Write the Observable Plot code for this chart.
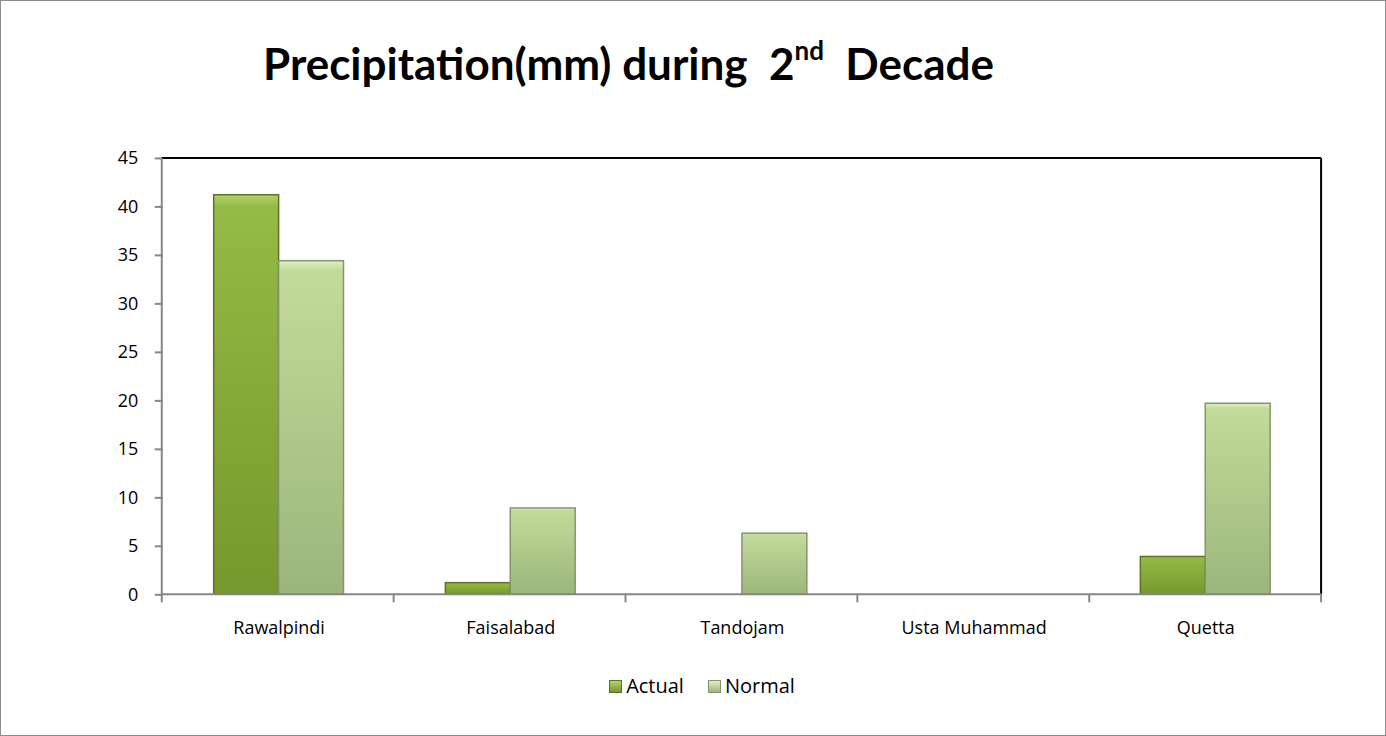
<!DOCTYPE html>
<html><head><meta charset="utf-8">
<script src="https://cdn.jsdelivr.net/npm/d3@7"></script>
<script src="https://cdn.jsdelivr.net/npm/@observablehq/plot@0.6"></script>
<style>
body{margin:0;background:#fff;}
#chart{position:relative;width:1384px;height:734px;border:1px solid #8c8c8c;background:#fff;font-family:"Open Sans",sans-serif;overflow:hidden;}
#title{position:absolute;left:262px;top:36px;font-family:Lato,"Open Sans",sans-serif;font-weight:bold;font-size:44px;line-height:52px;color:#000;white-space:pre;}
#title sup{font-size:26px;position:relative;top:-4px;line-height:0;}
#plot{position:absolute;left:0;top:100px;}
#legend{position:absolute;left:0;width:1386px;top:671px;text-align:center;font-size:20px;color:#000;padding-left:8px;}
#legend span.item{margin:0 12px;}
#legend i{display:inline-block;width:11px;height:11px;margin-right:4px;vertical-align:0px;}
</style></head>
<body>
<div id="chart">
<div id="title">Precipitation(mm) during  2<sup>nd</sup>  Decade</div>
<div id="plot"></div>
<div id="legend"></div>
</div>
<script>
const stations = ["Rawalpindi", "Faisalabad", "Tandojam", "Usta Muhammad", "Quetta"];
const series = ["Actual", "Normal"];
const actual = [41.2, 1.2, 0, 0, 3.9];
const normal = [34.4, 8.9, 6.3, 0, 19.7];
const yTicks = [0, 5, 10, 15, 20, 25, 30, 35, 40, 45];
const colors = {Actual: "url(#gActual)", Normal: "url(#gNormal)"};
const strokes = {Actual: "#5a7424", Normal: "#84956c"};

const data = [];
stations.forEach((s, i) => {
  data.push({station: s, series: "Actual", value: actual[i]});
  data.push({station: s, series: "Normal", value: normal[i]});
});

const W = 1386, H = 540;
const plot = Plot.plot({
  width: W, height: H,
  marginLeft: 161, marginRight: 64, marginTop: 57, marginBottom: 46,
  style: {fontFamily: "'Open Sans', sans-serif", fontSize: "18px", color: "#000", background: "transparent"},
  fx: {domain: stations, padding: 0, label: null},
  x: {domain: series, paddingInner: 0, paddingOuter: 0.7576, axis: null},
  y: {domain: [0, 45], label: null},
  marks: [
    Plot.barY(data, {
      fx: "station", x: "series", y: "value",
      filter: d => d.value > 0,
      fill: d => colors[d.series],
      stroke: d => strokes[d.series],
      strokeWidth: 1.5
    }),
    Plot.axisY({ticks: yTicks, tickSize: 8, tickPadding: 17, stroke: "#868686", strokeWidth: 2, fill: "#000", label: null, fontSize: 18}),
    Plot.axisFx({anchor: "bottom", tickSize: 0, tickPadding: 26, label: null, fill: "#000", fontSize: 18})
  ]
});
document.getElementById("plot").appendChild(plot);

// gradients & frame decoration drawn from the plot's own scales
const svg = d3.select(plot);
const defs = svg.insert("defs", ":first-child");
function grad(id, stops) {
  const g = defs.append("linearGradient").attr("id", id).attr("x1", 0).attr("y1", 0).attr("x2", 0).attr("y2", 1);
  stops.forEach(([o, c]) => g.append("stop").attr("offset", o).attr("stop-color", c));
}
grad("gActual", [[0, "#b2d26c"], [0.03, "#94bb45"], [0.5, "#86aa38"], [1, "#76982d"]]);
grad("gNormal", [[0, "#e0efc6"], [0.03, "#c2db9a"], [0.5, "#b0c98a"], [1, "#9bb57c"]]);

const fx = plot.scale("fx"), y = plot.scale("y");
const x0 = fx.range[0], x1 = fx.range[1];
const yTop = y.apply(45), yBot = y.apply(0);
const g = svg.append("g");
g.append("line").attr("x1", x0).attr("x2", x1).attr("y1", yTop).attr("y2", yTop).attr("stroke", "#000").attr("stroke-width", 2);
g.append("line").attr("x1", x1).attr("x2", x1).attr("y1", yTop).attr("y2", yBot).attr("stroke", "#000").attr("stroke-width", 2);
g.append("line").attr("x1", x0).attr("x2", x0).attr("y1", yTop).attr("y2", yBot).attr("stroke", "#868686").attr("stroke-width", 2);
g.append("line").attr("x1", x0).attr("x2", x1).attr("y1", yBot).attr("y2", yBot).attr("stroke", "#868686").attr("stroke-width", 2);
const step = (x1 - x0) / stations.length;
d3.range(stations.length + 1).forEach(i => {
  const xx = x0 + i * step;
  g.append("line").attr("x1", xx).attr("x2", xx).attr("y1", yBot).attr("y2", yBot + 8).attr("stroke", "#868686").attr("stroke-width", 2);
});

// legend
const leg = d3.select("#legend");
const lgrad = {Actual: "linear-gradient(#b2d26c,#76982d)", Normal: "linear-gradient(#e0efc6,#9bb57c)"};
series.forEach(s => {
  const it = leg.append("span").attr("class", "item");
  it.append("i").style("background", lgrad[s]).style("border", "1px solid " + strokes[s]);
  it.append("span").text(s);
});
</script>
</body></html>
